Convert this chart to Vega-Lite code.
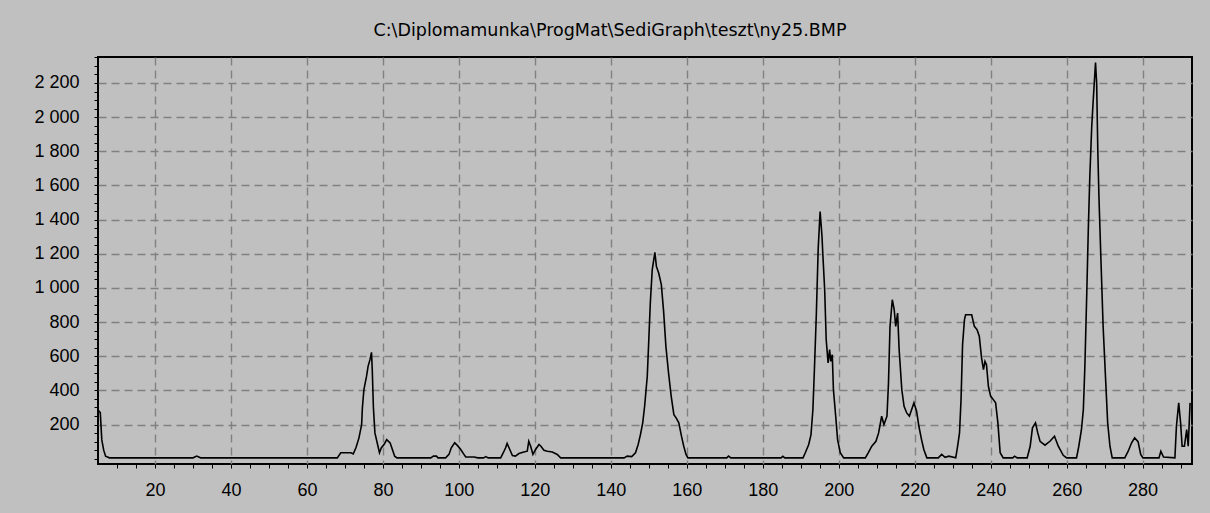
{
  "$schema": "https://vega.github.io/schema/vega-lite/v6.json",
  "autosize": {"type": "none"},
  "width": 1094,
  "height": 407,
  "padding": {"left": 98, "top": 57, "right": 18, "bottom": 49},
  "background": "#c0c0c0",
  "title": {
    "text": "C:\\Diplomamunka\\ProgMat\\SediGraph\\teszt\\ny25.BMP",
    "font": "DejaVu Sans",
    "fontSize": 17.5,
    "fontWeight": "normal",
    "color": "#000000",
    "anchor": "middle",
    "frame": "bounds",
    "baseline": "alphabetic",
    "offset": 22,
    "dy": 27,
    "dx": -3
  },
  "data": {
    "values": [
      {"x": 5, "y": 285}, {"x": 5.6, "y": 270}, {"x": 6, "y": 110}, {"x": 6.5, "y": 50}, {"x": 7, "y": 15}, {"x": 8, "y": 5},
      {"x": 30, "y": 5}, {"x": 31, "y": 15}, {"x": 32, "y": 5}, {"x": 68, "y": 5},
      {"x": 68.9, "y": 35}, {"x": 71.6, "y": 35}, {"x": 72.2, "y": 28}, {"x": 72.9, "y": 64}, {"x": 73.7, "y": 122}, {"x": 74.4, "y": 200},
      {"x": 74.6, "y": 298}, {"x": 75.0, "y": 405}, {"x": 75.7, "y": 483}, {"x": 76.1, "y": 541}, {"x": 76.6, "y": 580}, {"x": 77.0, "y": 623},
      {"x": 77.2, "y": 522}, {"x": 77.5, "y": 300}, {"x": 77.9, "y": 151}, {"x": 78.6, "y": 83}, {"x": 79.1, "y": 35}, {"x": 79.6, "y": 64},
      {"x": 80.3, "y": 83}, {"x": 81.0, "y": 112}, {"x": 81.9, "y": 93}, {"x": 82.5, "y": 54}, {"x": 83.1, "y": 15}, {"x": 83.7, "y": 5},
      {"x": 92.6, "y": 5}, {"x": 93.3, "y": 15}, {"x": 94.1, "y": 15}, {"x": 94.5, "y": 5}, {"x": 96.5, "y": 5}, {"x": 97.4, "y": 25},
      {"x": 98.0, "y": 64}, {"x": 98.9, "y": 93}, {"x": 99.6, "y": 78}, {"x": 100.5, "y": 54}, {"x": 101.2, "y": 30}, {"x": 101.8, "y": 10},
      {"x": 104, "y": 10}, {"x": 105, "y": 5}, {"x": 106.5, "y": 5}, {"x": 107.1, "y": 12}, {"x": 107.7, "y": 5}, {"x": 111.0, "y": 5},
      {"x": 111.7, "y": 35}, {"x": 112.3, "y": 64}, {"x": 112.7, "y": 89}, {"x": 113.4, "y": 54}, {"x": 114.1, "y": 19}, {"x": 114.9, "y": 15},
      {"x": 115.8, "y": 30}, {"x": 117.1, "y": 39}, {"x": 118.0, "y": 44}, {"x": 118.4, "y": 102}, {"x": 118.9, "y": 73}, {"x": 119.5, "y": 25},
      {"x": 120.2, "y": 54}, {"x": 121.1, "y": 83}, {"x": 121.6, "y": 73}, {"x": 122.4, "y": 49}, {"x": 123.3, "y": 44}, {"x": 124.6, "y": 39},
      {"x": 125.9, "y": 25}, {"x": 126.8, "y": 5},
      {"x": 143.5, "y": 5}, {"x": 144.3, "y": 15}, {"x": 145.5, "y": 12}, {"x": 146.5, "y": 35}, {"x": 147.2, "y": 83}, {"x": 147.8, "y": 141},
      {"x": 148.4, "y": 210}, {"x": 148.9, "y": 307}, {"x": 149.6, "y": 483}, {"x": 150.0, "y": 697}, {"x": 150.4, "y": 912}, {"x": 150.9, "y": 1106},
      {"x": 151.6, "y": 1208}, {"x": 152.0, "y": 1126}, {"x": 152.6, "y": 1087}, {"x": 153.3, "y": 1019}, {"x": 153.9, "y": 863}, {"x": 154.5, "y": 658},
      {"x": 155.2, "y": 502}, {"x": 155.9, "y": 365}, {"x": 156.6, "y": 258}, {"x": 157.2, "y": 239}, {"x": 157.9, "y": 210}, {"x": 158.6, "y": 132},
      {"x": 159.2, "y": 73}, {"x": 159.8, "y": 25}, {"x": 160.3, "y": 5},
      {"x": 170.5, "y": 5}, {"x": 171.0, "y": 15}, {"x": 171.6, "y": 5}, {"x": 184.8, "y": 5}, {"x": 185.3, "y": 14}, {"x": 185.8, "y": 5}, {"x": 190.6, "y": 5},
      {"x": 191.2, "y": 35}, {"x": 192.1, "y": 83}, {"x": 192.7, "y": 141}, {"x": 193.2, "y": 288}, {"x": 193.6, "y": 522}, {"x": 194.1, "y": 843},
      {"x": 194.6, "y": 1233}, {"x": 195.1, "y": 1447}, {"x": 195.6, "y": 1301}, {"x": 195.8, "y": 1204}, {"x": 196.3, "y": 989}, {"x": 196.7, "y": 697},
      {"x": 197.2, "y": 561}, {"x": 197.6, "y": 639}, {"x": 197.9, "y": 570}, {"x": 198.3, "y": 609}, {"x": 198.6, "y": 405}, {"x": 199.2, "y": 249},
      {"x": 199.7, "y": 112}, {"x": 200.4, "y": 35}, {"x": 201.3, "y": 5},
      {"x": 207.0, "y": 5}, {"x": 207.8, "y": 35}, {"x": 208.7, "y": 73}, {"x": 209.8, "y": 102}, {"x": 210.5, "y": 151}, {"x": 210.9, "y": 200},
      {"x": 211.3, "y": 249}, {"x": 211.9, "y": 200}, {"x": 212.7, "y": 249}, {"x": 213.1, "y": 444}, {"x": 213.5, "y": 775}, {"x": 214.1, "y": 931},
      {"x": 214.6, "y": 873}, {"x": 215.0, "y": 775}, {"x": 215.5, "y": 853}, {"x": 215.9, "y": 639}, {"x": 216.6, "y": 405}, {"x": 217.2, "y": 307},
      {"x": 217.9, "y": 268}, {"x": 218.6, "y": 249}, {"x": 219.2, "y": 288}, {"x": 219.8, "y": 327}, {"x": 220.5, "y": 278}, {"x": 221.1, "y": 190},
      {"x": 221.8, "y": 112}, {"x": 222.4, "y": 54}, {"x": 223.2, "y": 5},
      {"x": 226.2, "y": 5}, {"x": 227.1, "y": 25}, {"x": 228.0, "y": 8}, {"x": 229.0, "y": 15}, {"x": 230.8, "y": 5},
      {"x": 231.3, "y": 73}, {"x": 231.8, "y": 151}, {"x": 232.2, "y": 346}, {"x": 232.6, "y": 668}, {"x": 233.1, "y": 814}, {"x": 233.4, "y": 843},
      {"x": 235.0, "y": 843}, {"x": 235.7, "y": 775}, {"x": 236.4, "y": 756}, {"x": 237.0, "y": 717}, {"x": 237.6, "y": 590}, {"x": 238.1, "y": 522},
      {"x": 238.5, "y": 570}, {"x": 238.9, "y": 550}, {"x": 239.4, "y": 424}, {"x": 240.0, "y": 365}, {"x": 240.7, "y": 346}, {"x": 241.3, "y": 327},
      {"x": 241.9, "y": 210}, {"x": 242.5, "y": 35}, {"x": 243.3, "y": 5},
      {"x": 245.8, "y": 5}, {"x": 246.3, "y": 15}, {"x": 247.0, "y": 5}, {"x": 249.6, "y": 5}, {"x": 250.4, "y": 73}, {"x": 251.0, "y": 181},
      {"x": 251.8, "y": 210}, {"x": 252.4, "y": 151}, {"x": 253.0, "y": 102}, {"x": 254.3, "y": 79}, {"x": 255.6, "y": 102}, {"x": 256.8, "y": 132},
      {"x": 257.8, "y": 73}, {"x": 259.1, "y": 20}, {"x": 260.0, "y": 5},
      {"x": 262.6, "y": 5}, {"x": 263.2, "y": 73}, {"x": 263.9, "y": 171}, {"x": 264.4, "y": 288}, {"x": 264.8, "y": 541}, {"x": 265.3, "y": 970},
      {"x": 265.7, "y": 1340}, {"x": 266.1, "y": 1652}, {"x": 266.6, "y": 1944}, {"x": 267.0, "y": 2100}, {"x": 267.6, "y": 2319}, {"x": 267.9, "y": 2200},
      {"x": 268.2, "y": 1808}, {"x": 268.5, "y": 1535}, {"x": 269.0, "y": 1184}, {"x": 269.6, "y": 775}, {"x": 270.3, "y": 444}, {"x": 270.8, "y": 210},
      {"x": 271.4, "y": 73}, {"x": 272.0, "y": 5},
      {"x": 275.3, "y": 5}, {"x": 276.2, "y": 44}, {"x": 277.1, "y": 93}, {"x": 277.9, "y": 122}, {"x": 278.8, "y": 100}, {"x": 279.5, "y": 25}, {"x": 280.1, "y": 5},
      {"x": 284.3, "y": 5}, {"x": 284.8, "y": 44}, {"x": 285.5, "y": 10}, {"x": 288.5, "y": 5}, {"x": 288.9, "y": 190}, {"x": 289.5, "y": 327},
      {"x": 290.0, "y": 210}, {"x": 290.4, "y": 73}, {"x": 291.0, "y": 73}, {"x": 291.6, "y": 171}, {"x": 292.0, "y": 73}, {"x": 292.5, "y": 327}
    ]
  },
  "mark": {"type": "line", "color": "#000000", "strokeWidth": 1.6, "clip": true},
  "encoding": {
    "x": {
      "field": "x",
      "type": "quantitative",
      "scale": {"domain": [5, 293], "nice": false, "zero": false},
      "axis": {
        "title": null,
        "values": [10, 15, 20, 25, 30, 35, 40, 45, 50, 55, 60, 65, 70, 75, 80, 85, 90, 95, 100, 105, 110, 115, 120, 125, 130, 135, 140, 145, 150, 155, 160, 165, 170, 175, 180, 185, 190, 195, 200, 205, 210, 215, 220, 225, 230, 235, 240, 245, 250, 255, 260, 265, 270, 275, 280, 285, 290],
        "labelExpr": "datum.value % 20 === 0 ? datum.label : ''",
        "gridOpacity": {"condition": {"test": "datum.value % 20 === 0", "value": 1}, "value": 0},
        "labelPadding": 13
      }
    },
    "y": {
      "field": "y",
      "type": "quantitative",
      "scale": {"domain": [-31, 2352], "nice": false, "zero": false},
      "axis": {
        "title": null,
        "values": [0, 50, 100, 150, 200, 250, 300, 350, 400, 450, 500, 550, 600, 650, 700, 750, 800, 850, 900, 950, 1000, 1050, 1100, 1150, 1200, 1250, 1300, 1350, 1400, 1450, 1500, 1550, 1600, 1650, 1700, 1750, 1800, 1850, 1900, 1950, 2000, 2050, 2100, 2150, 2200, 2250, 2300, 2350],
        "labelExpr": "datum.value > 0 && datum.value % 200 === 0 ? replace(format(datum.value, ','), ',', ' ') : ''",
        "gridOpacity": {"condition": {"test": "datum.value > 0 && datum.value % 200 === 0", "value": 1}, "value": 0},
        "labelPadding": 15
      }
    }
  },
  "config": {
    "view": {"stroke": "#000000", "strokeWidth": 2},
    "axis": {
      "domain": false,
      "grid": true,
      "gridColor": "#808080",
      "gridDash": [8, 5],
      "gridWidth": 1.4,
      "ticks": true,
      "tickColor": "#000000",
      "tickSize": 4,
      "tickWidth": 1,
      "labelFont": "Liberation Sans",
      "labelFontSize": 18,
      "labelColor": "#000000",
      "labelOverlap": false
    }
  }
}
